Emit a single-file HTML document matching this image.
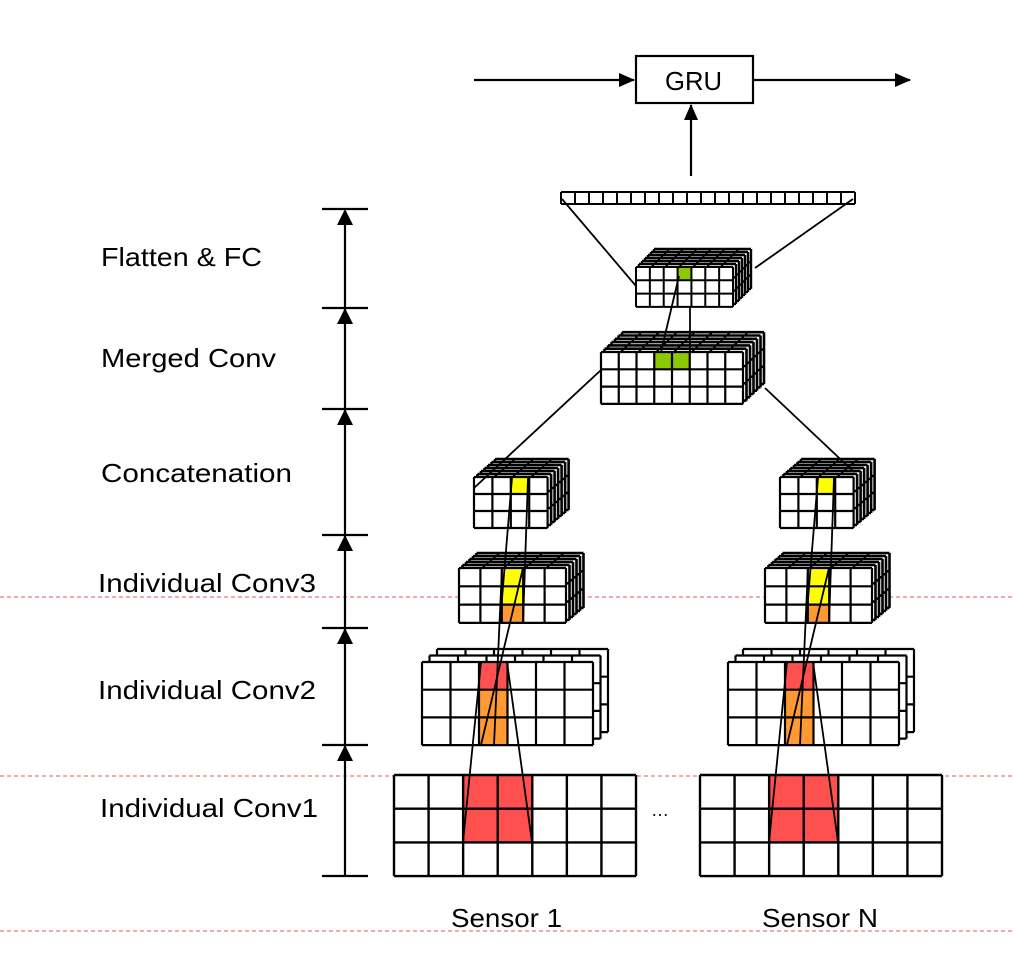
<!DOCTYPE html>
<html><head><meta charset="utf-8"><style>
html,body{margin:0;padding:0;background:#fff;}
svg{display:block;}
text{font-family:"Liberation Sans",sans-serif;fill:#000;}
</style></head><body>
<svg id="s" width="1014" height="956" viewBox="0 0 1014 956" xmlns="http://www.w3.org/2000/svg">
<defs>
<marker id="ah2" markerWidth="16" markerHeight="14" refX="15" refY="7" orient="auto" markerUnits="userSpaceOnUse">
<path d="M0,0 L16,7 L0,14 z" fill="#000"/></marker>
</defs>
<g stroke="#e05a5a" stroke-width="1" stroke-dasharray="4,3">
<line x1="0" y1="597" x2="1014" y2="597"/>
<line x1="0" y1="776" x2="1014" y2="776"/>
<line x1="0" y1="931" x2="1014" y2="931"/>
</g>
<g id="grids"></g>
<g stroke="#000" stroke-width="2.2" fill="none">
<rect x="636" y="56" width="117" height="47"/>
<line x1="474" y1="80" x2="634" y2="80" marker-end="url(#ah2)"/>
<line x1="753" y1="80" x2="910" y2="80" marker-end="url(#ah2)"/>
<line x1="691" y1="176" x2="691" y2="105" marker-end="url(#ah2)"/>
</g>
<g stroke="#000" stroke-width="2.2">
<line x1="345" y1="876" x2="345" y2="211" />
<line x1="322" y1="209" x2="368" y2="209"/>
<line x1="322" y1="308" x2="368" y2="308"/>
<line x1="322" y1="409" x2="368" y2="409"/>
<line x1="322" y1="535" x2="368" y2="535"/>
<line x1="322" y1="628" x2="368" y2="628"/>
<line x1="322" y1="745" x2="368" y2="745"/>
<line x1="322" y1="876" x2="368" y2="876"/>
</g>
<g fill="#000">
<path d="M345,209 l-8,16 h16z"/><path d="M345,308 l-8,16 h16z"/><path d="M345,409 l-8,16 h16z"/>
<path d="M345,535 l-8,16 h16z"/><path d="M345,628 l-8,16 h16z"/><path d="M345,745 l-8,16 h16z"/>
</g>
<g font-size="26">
<text x="665" y="90" textLength="57" lengthAdjust="spacingAndGlyphs">GRU</text>
<text x="101" y="266" textLength="161" lengthAdjust="spacingAndGlyphs">Flatten &amp; FC</text>
<text x="101" y="367" textLength="175" lengthAdjust="spacingAndGlyphs">Merged Conv</text>
<text x="101" y="482" textLength="191" lengthAdjust="spacingAndGlyphs">Concatenation</text>
<text x="98" y="592" textLength="218" lengthAdjust="spacingAndGlyphs">Individual Conv3</text>
<text x="98" y="699" textLength="218" lengthAdjust="spacingAndGlyphs">Individual Conv2</text>
<text x="100" y="817" textLength="218" lengthAdjust="spacingAndGlyphs">Individual Conv1</text>
<text x="451" y="927" textLength="111" lengthAdjust="spacingAndGlyphs">Sensor 1</text>
<text x="762" y="927" textLength="116" lengthAdjust="spacingAndGlyphs">Sensor N</text>
<text x="651" y="816" font-size="18">…</text>
</g>
<g id="lines" stroke="#000" stroke-width="1.8" fill="none">
<line x1="562" y1="199" x2="636" y2="286"/>
<line x1="853" y1="199" x2="755" y2="268"/>
<line x1="679" y1="276" x2="661" y2="352"/>
<line x1="690" y1="307" x2="690" y2="352"/>
<line x1="601" y1="370" x2="474" y2="488"/>
<line x1="765" y1="388" x2="854" y2="472"/>
</g>
<script>
var NS="http://www.w3.org/2000/svg",G=document.getElementById("grids"),L=document.getElementById("lines");
function el(t,a,p){var e=document.createElementNS(NS,t);for(var k in a)e.setAttribute(k,a[k]);(p||G).appendChild(e);return e;}
function grid(x,y,cols,rows,cw,ch,fills,sw){
 el("rect",{x:x,y:y,width:cols*cw,height:rows*ch,fill:"#fff",stroke:"none"});
 for(var f in fills){var p=f.split(",");el("rect",{x:x+p[0]*cw,y:y+p[1]*ch,width:cw,height:ch,fill:fills[f]});}
 var d="";for(var i=0;i<=cols;i++)d+="M"+(x+i*cw)+","+y+"v"+(rows*ch);
 for(var j=0;j<=rows;j++)d+="M"+x+","+(y+j*ch)+"h"+(cols*cw);
 el("path",{d:d,stroke:"#000","stroke-width":sw||2,fill:"none"});
}
function stack(x,y,cols,rows,cw,ch,dx,dy,n,fills,sw,bsw){
 for(var k=n;k>=1;k--)grid(x+dx*k,y-dy*k,cols,rows,cw,ch,{},bsw||sw);
 grid(x,y,cols,rows,cw,ch,fills,sw);
}
var R="#ff5050",O="#ff9933",Y="#ffff00",Gr="#8cc800";
grid(561,192,21,1,294/21,12,{},2);
stack(636,267,7,3,97/7,13.3,3,3,6,{"3,0":Gr},2,2.4);
stack(601,352,8,3,142/8,17.3,3.5,3.3,6,{"3,0":Gr,"4,0":Gr},2.2,2.6);
[0,306].forEach(function(o){
 stack(474+o,477,4,3,18.4,17,3.5,3,6,{"2,0":Y},2.2,2.6);
 stack(459+o,568,5,3,21.4,18.3,3.5,3,5,{"2,0":Y,"2,1":Y,"2,2":O},2.2,2.6);
 stack(422+o,662,6,3,28.5,27.7,7.5,6.5,2,{"2,0":R,"2,1":O,"2,2":O},2.2);
 grid(394+o,775,7,3,242/7,33.7,{"2,0":R,"3,0":R,"2,1":R,"3,1":R},2.4);
 [[512,478,500,623],[528,478,523,623],[502,568,494,745],[523,568,481,745],[481,662,463,842],[507,662,532,842]].forEach(function(a){
  el("line",{x1:a[0]+o,y1:a[1],x2:a[2]+o,y2:a[3]},L);});
});
</script>
</svg>
</body></html>
